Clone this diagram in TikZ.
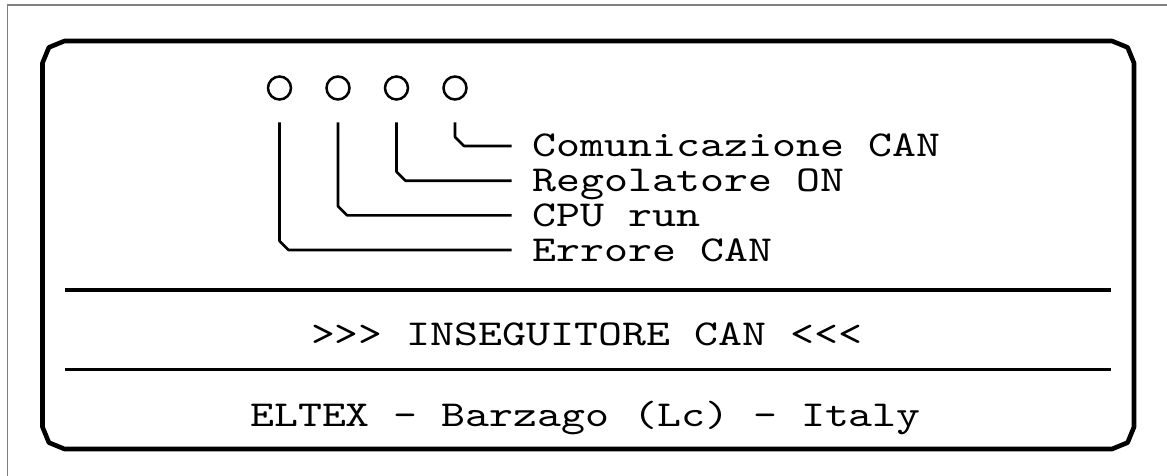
\documentclass[tikz,border=0pt]{standalone}
\usepackage{fontspec}
\newfontfamily\cour{lmmono10-regular.otf}[FakeStretch=1.25]
\usetikzlibrary{calc}
\begin{document}
\begin{tikzpicture}[x=1pt,y=-1pt,
  frame/.style={draw=black!50, line width=1.2pt},
  panel/.style={draw=black, line width=4.6pt, line join=round},
  sepline/.style={draw=black, line width=3.2pt},
  lead/.style={draw=black, line width=2.6pt, line join=round},
  led/.style={circle, draw=black, line width=2.5pt, minimum size=23pt, inner sep=0pt},
  lbl/.style={anchor=west, inner xsep=21pt, inner ysep=0pt, text height=22pt, text depth=0pt,
              font=\cour\fontsize{36.5}{40}\selectfont},
  title/.style={anchor=base, inner sep=0pt, font=\cour\fontsize{36.5}{40}\selectfont}]
\useasboundingbox (0,0) rectangle (1167,476);
% outer grey frame
\draw[frame] (7.3,476) -- (7.3,5) -- (1167,5);
% panel outline with faceted corners
\draw[panel] (64.5,41) -- (1112,41) -- (1127.6,47.4) -- (1134,63)
  -- (1134,427) -- (1127.6,442.6) -- (1112,449)
  -- (64.5,449) -- (48.9,442.6) -- (42.5,427)
  -- (42.5,63) -- (48.9,47.4) -- cycle;
% separator lines
\draw[sepline] (65,290) -- (1110.7,290);
\draw[sepline] (65,369.3) -- (1110.7,369.3);
% LEDs
\node[led] (L1) at (279.5,88) {};
\node[led] (L2) at (338,88) {};
\node[led] (L3) at (396.5,88) {};
\node[led] (L4) at (455,88) {};
% labels
\node[lbl] (T4) at (511.7,146) {Comunicazione CAN};
\node[lbl] (T3) at (511.7,180.7) {Regolatore ON};
\node[lbl] (T2) at (511.7,215.3) {CPU run};
\node[lbl] (T1) at (511.7,250) {Errore CAN};
% leaders
\draw[lead] ($(L4.south)+(0,21.7)$) -- ($(L4.south |- T4.west)+(0,-9)$) -- ($(L4.south |- T4.west)+(9,0)$) -- (T4.west);
\draw[lead] ($(L3.south)+(0,21.7)$) -- ($(L3.south |- T3.west)+(0,-9)$) -- ($(L3.south |- T3.west)+(9,0)$) -- (T3.west);
\draw[lead] ($(L2.south)+(0,21.7)$) -- ($(L2.south |- T2.west)+(0,-9)$) -- ($(L2.south |- T2.west)+(9,0)$) -- (T2.west);
\draw[lead] ($(L1.south)+(0,21.7)$) -- ($(L1.south |- T1.west)+(0,-9)$) -- ($(L1.south |- T1.west)+(9,0)$) -- (T1.west);
% titles
\node[title] (mid) at (586.5,345) {>{}>{}> INSEGUITORE CAN <{}<{}<};
\node[title] (bot) at (585.5,426.7) {ELTEX - Barzago (Lc) - Italy};
\end{tikzpicture}
\end{document}
